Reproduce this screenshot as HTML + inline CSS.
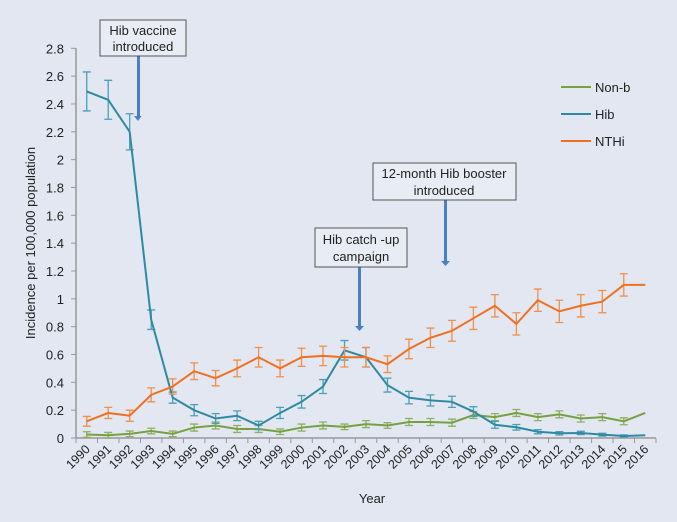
<!DOCTYPE html>
<html><head><meta charset="utf-8"><style>
body{margin:0;background:#e2e7f2;}
svg{display:block;font-family:"Liberation Sans",sans-serif;}
</style></head><body>
<svg id="chart" width="677" height="522" viewBox="0 0 677 522">
<rect width="677" height="522" fill="#e2e7f2"/>
<g id="axes"></g>
<g id="series"></g>
<g font-size="13" fill="#222">
 <line x1="561" y1="87" x2="591" y2="87" stroke="#77a040" stroke-width="2"/>
 <text x="595" y="92">Non-b</text>
 <line x1="561" y1="114" x2="591" y2="114" stroke="#2e8aa0" stroke-width="2"/>
 <text x="595" y="119">Hib</text>
 <line x1="561" y1="141" x2="591" y2="141" stroke="#f07020" stroke-width="2"/>
 <text x="595" y="146">NTHi</text>
</g>
<g font-size="13" fill="#222" text-anchor="middle">
 <rect x="137" y="56" width="3" height="62" fill="#4a7fc4"/><path d="M134 116 L141.5 116 L138 121 Z" fill="#4a7fc4"/>
 <rect x="100" y="20" width="86" height="36" fill="#e8ecf4" stroke="#555"/>
 <text x="143" y="35">Hib vaccine</text>
 <text x="143" y="51">introduced</text>
 <rect x="358" y="267" width="3" height="60" fill="#4a7fc4"/><path d="M355 326 L364 326 L359.5 331 Z" fill="#4a7fc4"/>
 <rect x="315" y="228" width="92" height="39" fill="#e8ecf4" stroke="#555"/>
 <text x="361" y="244">Hib catch -up</text>
 <text x="361" y="261">campaign</text>
 <rect x="444" y="200" width="3" height="62" fill="#4a7fc4"/><path d="M441 261 L450 261 L445.5 266 Z" fill="#4a7fc4"/>
 <rect x="373" y="163" width="143" height="37" fill="#e8ecf4" stroke="#555"/>
 <text x="444" y="178">12-month Hib booster</text>
 <text x="444" y="195">introduced</text>
</g>
</svg>
<script>
const years=[1990,1991,1992,1993,1994,1995,1996,1997,1998,1999,2000,2001,2002,2003,2004,2005,2006,2007,2008,2009,2010,2011,2012,2013,2014,2015,2016];
const yTicks=[0,0.2,0.4,0.6,0.8,1,1.2,1.4,1.6,1.8,2,2.2,2.4,2.6,2.8];
const yTickLabels=["0","0.2","0.4","0.6","0.8","1","1.2","1.4","1.6","1.8","2","2.2","2.4","2.6","2.8"];
const hib=[2.49,2.43,2.2,0.85,0.29,0.2,0.14,0.16,0.09,0.18,0.26,0.37,0.63,0.58,0.38,0.29,0.27,0.26,0.19,0.095,0.077,0.045,0.034,0.036,0.024,0.014,0.02];
const hibErr=[0.14,0.14,0.13,0.07,0.04,0.04,0.035,0.035,0.03,0.04,0.045,0.05,0.07,0.07,0.05,0.045,0.04,0.04,0.035,0.025,0.02,0.015,0.012,0.012,0.01,0.008,0];
const nthi=[0.12,0.18,0.16,0.31,0.37,0.48,0.43,0.5,0.58,0.5,0.58,0.59,0.58,0.58,0.53,0.64,0.72,0.77,0.86,0.95,0.82,0.99,0.91,0.95,0.98,1.1,1.1];
const nthiErr=[0.035,0.04,0.04,0.05,0.055,0.06,0.055,0.06,0.07,0.06,0.065,0.07,0.07,0.07,0.06,0.07,0.07,0.075,0.08,0.08,0.08,0.08,0.08,0.08,0.08,0.08,0];
const nonb=[0.025,0.02,0.03,0.05,0.03,0.075,0.09,0.065,0.065,0.045,0.075,0.09,0.08,0.1,0.09,0.115,0.115,0.11,0.165,0.15,0.18,0.15,0.17,0.14,0.15,0.12,0.18];
const nonbErr=[0.02,0.02,0.02,0.02,0.02,0.025,0.025,0.025,0.025,0.02,0.025,0.025,0.02,0.025,0.02,0.025,0.025,0.025,0.025,0.025,0.025,0.025,0.025,0.025,0.025,0.025,0];

const NS="http://www.w3.org/2000/svg";
const X0=76,X1=656,Y0=438,YTOP=48.3,YMAX=2.8;
const bw=(X1-X0)/years.length;
function xs(i){return X0+bw*(i+0.5);}
function ys(v){return Y0-(Y0-YTOP)*v/YMAX;}
function mk(tag,attrs,parent){const e=document.createElementNS(NS,tag);for(const k in attrs)e.setAttribute(k,attrs[k]);parent.appendChild(e);return e;}
const axes=document.getElementById('axes');
let ya=mk('line',{x1:X0,y1:YTOP,x2:X0,y2:Y0,stroke:'#999','stroke-width':1.5},axes);


let xa=mk('line',{x1:X0,y1:Y0,x2:X1,y2:Y0,stroke:'#999','stroke-width':1.5},axes);


yTicks.forEach((v,i)=>{
  mk('line',{x1:X0-5,y1:ys(v),x2:X0,y2:ys(v),stroke:'#999'},axes);
  const t=mk('text',{x:X0-12,y:ys(v)+5,'text-anchor':'end','font-size':13,fill:'#222'},axes);
  t.textContent=yTickLabels[i];
  
  
});
for(let i=0;i<=years.length;i++){mk('line',{x1:X0+bw*i,y1:Y0,x2:X0+bw*i,y2:Y0+5,stroke:'#999'},axes);}
years.forEach((y,i)=>{
  const x=xs(i)+4,yy=Y0+12;
  const t=mk('text',{x:x,y:yy,'text-anchor':'end','font-size':12.5,fill:'#222',transform:`rotate(-45 ${x} ${yy})`},axes);
  t.textContent=y;
  
  
});
const xt=mk('text',{x:372,y:503,'text-anchor':'middle','font-size':13,fill:'#222'},axes);
xt.textContent='Year';


const yt=mk('text',{x:0,y:0,'text-anchor':'middle','font-size':13,fill:'#222',transform:'translate(35 243) rotate(-90)'},axes);
yt.textContent='Incidence per 100,000 population';



const ser=document.getElementById('series');
function draw(vals,errs,col,ecol,name){
  const g=mk('g',{},ser);
  
  
  vals.forEach((v,i)=>{
    const e=errs[i];if(!e)return;
    const x=xs(i),a=ys(v+e),b=ys(v-e);
    const eb=mk('path',{d:`M${x-4} ${a}H${x+4}M${x} ${a}V${b}M${x-4} ${b}H${x+4}`,stroke:ecol,'stroke-width':1.3,fill:'none'},g);
    
    
  });
  const p=mk('polyline',{points:vals.map((v,i)=>xs(i)+','+ys(v)).join(' '),stroke:col,'stroke-width':2,fill:'none'},g);
  
  
}
draw(nonb,nonbErr,'#77a040','#8cb060','non-b');
draw(hib,hibErr,'#2e8aa0','#4aa0b8','hib');
draw(nthi,nthiErr,'#f07020','#f0904a','nthi');
</script>
</body></html>
